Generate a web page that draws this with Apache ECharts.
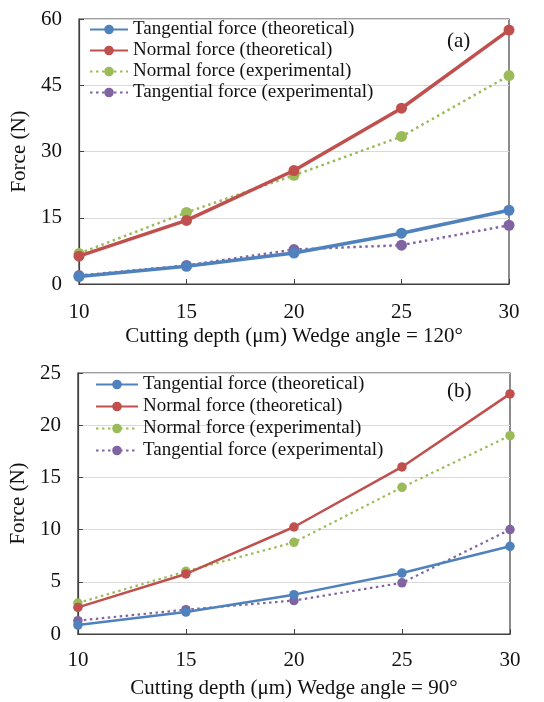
<!DOCTYPE html>
<html>
<head>
<meta charset="utf-8">
<script src="https://cdn.jsdelivr.net/npm/echarts@6/dist/echarts.min.js"></script>
<style>
html,body{margin:0;padding:0;background:#fff;}
#chart{width:544px;height:702px;}
</style>
</head>
<body>
<div id="chart"></div>
<script>
// ---- data ----
var depths = [10, 15, 20, 25, 30];
var seriesNames = [
  'Tangential force (theoretical)',
  'Normal force (theoretical)',
  'Normal force (experimental)',
  'Tangential force (experimental)'
];
// (a) Wedge angle = 120°
var a_tanTheo = [1.7, 4.0, 7.0, 11.5, 16.7];
var a_norTheo = [6.3, 14.4, 25.7, 39.8, 57.5];
var a_norExp  = [6.9, 16.2, 24.6, 33.4, 47.2];
var a_tanExp  = [1.9, 4.2, 7.8, 8.8, 13.3];
// (b) Wedge angle = 90°
var b_tanTheo = [0.86, 2.1, 3.77, 5.84, 8.4];
var b_norTheo = [2.55, 5.75, 10.25, 16.0, 23.0];
var b_norExp  = [2.97, 6.0, 8.78, 14.05, 19.0];
var b_tanExp  = [1.28, 2.33, 3.2, 4.9, 10.0];

var xTitleA = 'Cutting depth (\u03bcm) Wedge angle = 120\u00b0';
var xTitleB = 'Cutting depth (\u03bcm) Wedge angle = 90\u00b0';
var yTitle = 'Force (N)';

var colors = ['#4F81BD', '#C0504D', '#9BBB59', '#8064A2'];
var FONT = '"Liberation Serif", "Times New Roman", serif';

function pairs(vals) {
  return vals.map(function (v, i) { return [depths[i], v]; });
}

function makeSeries(gridIdx, sets, thick, thin, sym) {
  return sets.map(function (vals, i) {
    var dotted = i >= 2;
    return {
      name: seriesNames[i],
      type: 'line',
      xAxisIndex: gridIdx,
      yAxisIndex: gridIdx,
      data: pairs(vals),
      symbol: 'circle',
      symbolSize: sym,
      showSymbol: true,
      z: dotted ? 2 : 3,
      color: colors[i],
      lineStyle: { color: colors[i], width: dotted ? thin : thick, type: dotted ? [2.5, 3.5] : 'solid' },
      itemStyle: { color: colors[i] },
      animation: false
    };
  });
}

function xAxis(gridIdx, title, margin, gap) {
  return {
    type: 'value', gridIndex: gridIdx, min: 10, max: 30, interval: 5,
    name: title, nameLocation: 'middle', nameGap: gap,
    nameTextStyle: { fontFamily: FONT, fontSize: 21, color: '#111' },
    axisLine: { show: true, lineStyle: { color: '#404040', width: 1.2 } },
    axisTick: { show: true, inside: true, length: 5, lineStyle: { color: '#404040' } },
    axisLabel: { fontFamily: FONT, fontSize: 21, color: '#111', margin: margin },
    splitLine: { show: false }
  };
}
function yAxis(gridIdx, max, interval, gap) {
  return {
    type: 'value', gridIndex: gridIdx, min: 0, max: max, interval: interval,
    name: yTitle, nameLocation: 'middle', nameGap: gap, nameRotate: 90,
    nameTextStyle: { fontFamily: FONT, fontSize: 21, color: '#111' },
    axisLine: { show: true, lineStyle: { color: '#404040', width: 1.2 } },
    axisTick: { show: true, inside: true, length: 5, lineStyle: { color: '#404040' } },
    axisLabel: { fontFamily: FONT, fontSize: 21, color: '#111', margin: 17 },
    splitLine: { show: true, lineStyle: { color: '#D9D9D9', width: 1.2 } }
  };
}
function legend(left, top, itemW, gap) {
  return {
    data: seriesNames,
    orient: 'vertical',
    left: left, top: top,
    padding: 0,
    itemGap: gap,
    itemWidth: itemW, itemHeight: 12,
    textStyle: { fontFamily: FONT, fontSize: 19, color: '#111' },
    selectedMode: false
  };
}

var chart = echarts.init(document.getElementById('chart'));
var series = []
  .concat(makeSeries(0, [a_tanTheo, a_norTheo, a_norExp, a_tanExp], 3.5, 2.5, 11))
  .concat(makeSeries(1, [b_tanTheo, b_norTheo, b_norExp, b_tanExp], 2.5, 2.2, 9.5));

var option = {
  backgroundColor: '#fff',
  animation: false,
  grid: [
    { left: 79, top: 19, width: 430, height: 265, show: true, borderColor: '#404040', borderWidth: 1.2 },
    { left: 76, top: 373, width: 434, height: 261, show: true, borderColor: '#404040', borderWidth: 1.2 }
  ],
  xAxis: [xAxis(0, xTitleA, 18, 42), xAxis(1, xTitleB, 16, 44)],
  yAxis: [yAxis(0, 60, 15, 43), yAxis(1, 25, 5, 41)],
  legend: [legend(89, 20, 38, 2), legend(95, 375, 42, 3)],
  graphic: [
    { type: 'text', left: 447, top: 31, style: { text: '(a)', fontFamily: FONT, fontSize: 21, fill: '#111' } },
    { type: 'text', left: 447, top: 381, style: { text: '(b)', fontFamily: FONT, fontSize: 21, fill: '#111' } }
  ],
  series: series
};
chart.setOption(option);
</script>
</body>
</html>
